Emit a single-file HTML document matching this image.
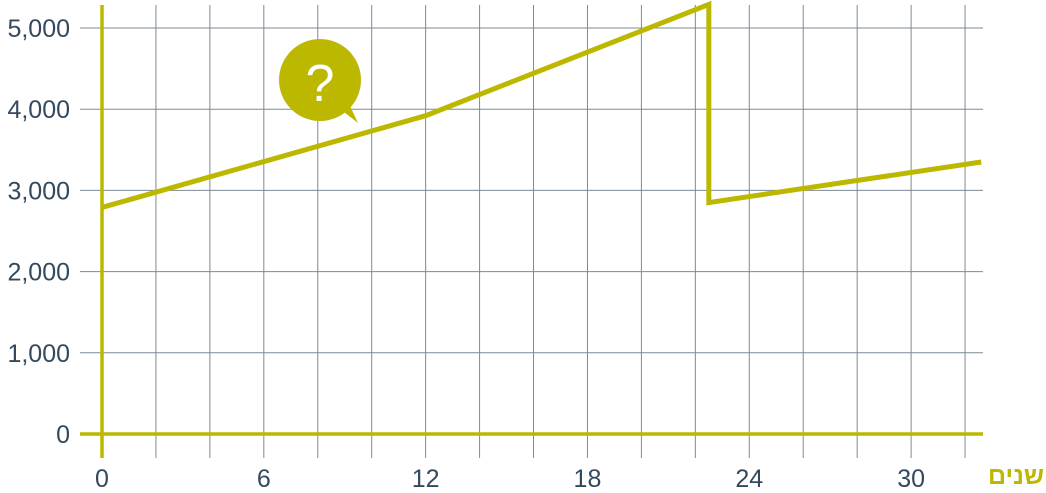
<!DOCTYPE html>
<html><head><meta charset="utf-8"><style>
body{margin:0;background:#fff;}
svg text{font-family:"Liberation Sans",sans-serif;}
</style></head><body>
<svg id="chart" width="1046" height="488"></svg>
<script>
const xTicks=[0,6,12,18,24,30];
const yTicks=[0,1000,2000,3000,4000,5000];
const yLabels=["0","1,000","2,000","3,000","4,000","5,000"];
const seriesX=[0,12,22.5,22.5,32.6];
const seriesY=[2790,3920,5290,2850,3350];
const NS="http://www.w3.org/2000/svg";
const svg=document.getElementById('chart');
const sx=v=>102+v*26.97;
const sy=v=>434-v*0.0812;
const C='#bcb800';
function mk(t,a){const e=document.createElementNS(NS,t);for(const k in a)e.setAttribute(k,a[k]);svg.appendChild(e);return e;}
for(let v=2;v<=32;v+=2){
 const l=mk('line',{x1:sx(v),x2:sx(v),y1:5,y2:458,stroke:'#7d8a95','stroke-width':1});
 
 
}
yTicks.forEach((v,i)=>{
 if(v>0){const l=mk('line',{x1:80,x2:983,y1:sy(v),y2:sy(v),stroke:'#7d8a95','stroke-width':1});
 
 }
 const t=mk('text',{x:70,y:sy(v)+9,'text-anchor':'end','font-size':25,fill:'#34495e'});
 t.textContent=yLabels[i];
 
 
});
xTicks.forEach(v=>{
 const t=mk('text',{x:sx(v),y:487,'text-anchor':'middle','font-size':25,fill:'#34495e'});
 t.textContent=v;
 
 
});
const xa=mk('line',{x1:80,x2:983,y1:434,y2:434,stroke:C,'stroke-width':3.5});


const ya=mk('line',{x1:102,x2:102,y1:5,y2:458,stroke:C,'stroke-width':3.5});


const pts=seriesX.map((x,i)=>sx(x)+','+sy(seriesY[i])).join(' ');
const pl=mk('polyline',{points:pts,fill:'none',stroke:C,'stroke-width':5,'stroke-linejoin':'miter'});


const xt=mk('text',{x:1044,y:484,'text-anchor':'end','font-size':25,'font-weight':'bold',fill:C});
xt.textContent='שנים';


const g=mk('g',{});


const c=document.createElementNS(NS,'circle');c.setAttribute('cx',320);c.setAttribute('cy',80);c.setAttribute('r',41);c.setAttribute('fill',C);g.appendChild(c);
const p=document.createElementNS(NS,'path');p.setAttribute('d','M335,105 L358,123 L345,95 Z');p.setAttribute('fill',C);g.appendChild(p);
const q=document.createElementNS(NS,'text');q.setAttribute('x',320);q.setAttribute('y',101);q.setAttribute('text-anchor','middle');q.setAttribute('font-size',52);q.setAttribute('fill','#fff');q.textContent='?';g.appendChild(q);
</script>
</body></html>
